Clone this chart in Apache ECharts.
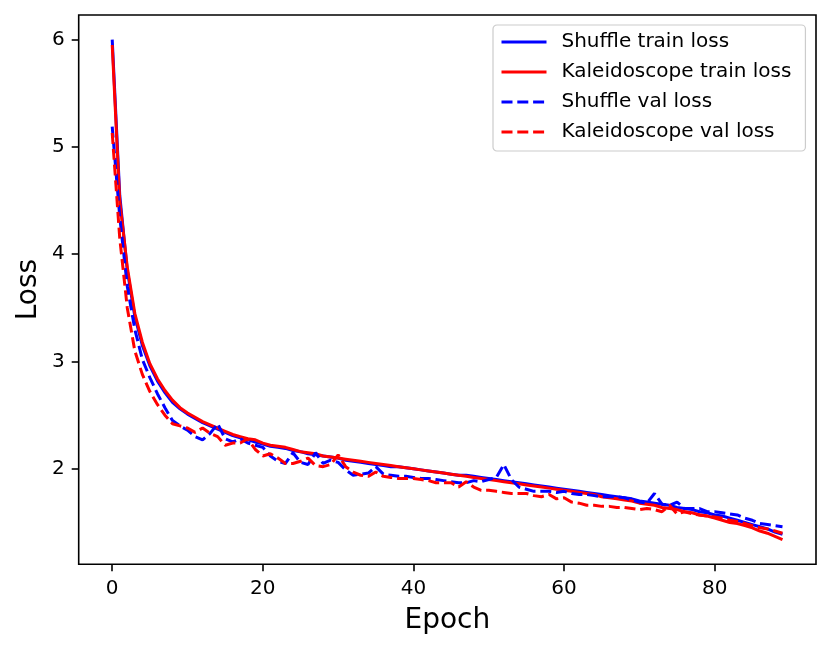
<!DOCTYPE html>
<html>
<head>
<meta charset="utf-8">
<title>Loss curves</title>
<script src="https://cdn.jsdelivr.net/npm/echarts@6/dist/echarts.min.js"></script>
<style>
  html, body { margin: 0; padding: 0; background: #ffffff; }
  #chart { width: 831px; height: 650px; }
</style>
</head>
<body>
<div id="chart"></div>
<script>
// values, one per epoch (0..89)
var shuffleTrain = [
  6.00, 4.55, 3.85, 3.42, 3.15, 2.96, 2.82, 2.71, 2.62, 2.56,
  2.51, 2.47, 2.43, 2.40, 2.37, 2.34, 2.31, 2.29, 2.27, 2.25,
  2.23, 2.21, 2.20, 2.19, 2.17, 2.16, 2.14, 2.13, 2.12, 2.11,
  2.10, 2.08, 2.07, 2.06, 2.05, 2.04, 2.03, 2.02, 2.02, 2.01,
  2.00, 1.99, 1.98, 1.97, 1.96, 1.95, 1.94, 1.94, 1.93, 1.92,
  1.91, 1.90, 1.89, 1.88, 1.87, 1.86, 1.85, 1.84, 1.83, 1.82,
  1.81, 1.80, 1.79, 1.78, 1.77, 1.76, 1.75, 1.74, 1.73, 1.72,
  1.70, 1.69, 1.68, 1.67, 1.66, 1.64, 1.63, 1.62, 1.60, 1.59,
  1.57, 1.56, 1.54, 1.52, 1.50, 1.48, 1.46, 1.44, 1.41, 1.39
];
var kaleidoTrain = [
  5.95, 4.50, 3.88, 3.45, 3.18, 2.98, 2.84, 2.73, 2.64, 2.57,
  2.52, 2.48, 2.44, 2.41, 2.38, 2.35, 2.32, 2.30, 2.28, 2.27,
  2.24, 2.22, 2.21, 2.20, 2.18, 2.16, 2.15, 2.14, 2.12, 2.11,
  2.10, 2.09, 2.08, 2.07, 2.06, 2.05, 2.04, 2.03, 2.02, 2.01,
  2.00, 1.99, 1.98, 1.97, 1.96, 1.95, 1.94, 1.93, 1.92, 1.91,
  1.90, 1.89, 1.88, 1.87, 1.86, 1.85, 1.84, 1.83, 1.82, 1.81,
  1.80, 1.79, 1.78, 1.77, 1.76, 1.74, 1.73, 1.72, 1.71, 1.70,
  1.68, 1.67, 1.66, 1.64, 1.63, 1.62, 1.60, 1.59, 1.57, 1.56,
  1.54, 1.52, 1.50, 1.49, 1.47, 1.45, 1.42, 1.40, 1.37, 1.34
];
var shuffleVal = [
  5.19, 4.35, 3.70, 3.30, 3.02, 2.85, 2.70, 2.57, 2.45, 2.40,
  2.36, 2.30, 2.27, 2.33, 2.42, 2.28, 2.25, 2.28, 2.24, 2.22,
  2.20, 2.12, 2.07, 2.05, 2.15, 2.06, 2.04, 2.15, 2.05, 2.08,
  2.06, 1.99, 1.94, 1.95, 1.96, 2.02, 1.95, 1.94, 1.93, 1.93,
  1.92, 1.91, 1.91, 1.90, 1.89, 1.88, 1.87, 1.87, 1.89, 1.88,
  1.90, 1.92, 2.04, 1.90, 1.83, 1.81, 1.79, 1.79, 1.79, 1.78,
  1.79, 1.77, 1.76, 1.76, 1.75, 1.74, 1.74, 1.74, 1.73, 1.71,
  1.69, 1.68, 1.77, 1.67, 1.66, 1.69, 1.63, 1.63, 1.63, 1.60,
  1.60, 1.59, 1.58, 1.57, 1.54, 1.52, 1.49, 1.48, 1.47, 1.46
];
var kaleidoVal = [
  5.13, 4.15, 3.50, 3.10, 2.88, 2.72, 2.60, 2.50, 2.42, 2.40,
  2.38, 2.34, 2.38, 2.33, 2.30, 2.22, 2.24, 2.24, 2.28, 2.18,
  2.12, 2.14, 2.10, 2.05, 2.05, 2.07, 2.10, 2.03, 2.02, 2.04,
  2.13, 2.02, 1.97, 1.94, 1.93, 1.97, 1.93, 1.92, 1.91, 1.91,
  1.91, 1.90, 1.89, 1.87, 1.87, 1.87, 1.83, 1.88, 1.83, 1.80,
  1.80, 1.79, 1.78, 1.77, 1.77, 1.77, 1.75, 1.74, 1.76, 1.72,
  1.73, 1.69, 1.68, 1.66, 1.66, 1.65, 1.65, 1.64, 1.64, 1.63,
  1.62, 1.63, 1.62, 1.60, 1.66, 1.58, 1.60, 1.58, 1.57, 1.56,
  1.55, 1.54, 1.52, 1.51, 1.49, 1.47, 1.45, 1.44, 1.42, 1.40
];
var xTicks = [0, 20, 40, 60, 80];
var yTicks = [2, 3, 4, 5, 6];
var seriesNames = ['Shuffle train loss', 'Kaleidoscope train loss', 'Shuffle val loss', 'Kaleidoscope val loss'];

(function() {
  var font = 'DejaVu Sans';
  var dash = [11, 4.8];
  var lw = 3;

  function pairs(values) {
    return values.map(function(v, i) { return [i, v]; });
  }

  function lineSeries(name, values, color, dashed) {
    return {
      name: name,
      type: 'line',
      data: pairs(values),
      symbol: 'none',
      showSymbol: false,
      animation: false,
      lineStyle: { color: color, width: lw, type: dashed ? dash : 'solid', cap: 'butt' },
      itemStyle: { color: color }
    };
  }

  var chart = echarts.init(document.getElementById('chart'), null, { renderer: 'canvas' });

  chart.setOption({
    backgroundColor: '#ffffff',
    animation: false,
    grid: {
      left: 78.7, right: 15, top: 15, bottom: 85.7,
      containLabel: false,
      outerBoundsMode: 'none',
      show: true,
      borderColor: '#000000',
      borderWidth: 1.6,
      backgroundColor: 'transparent'
    },
    legend: {
      data: seriesNames,
      orient: 'vertical',
      left: 493,
      top: 25,
      itemWidth: 45,
      itemHeight: 20,
      itemGap: 10,
      padding: [7, 14, 9, 7],
      backgroundColor: 'rgba(255,255,255,0.8)',
      borderColor: '#cccccc',
      borderWidth: 1.2,
      borderRadius: 4,
      itemStyle: { opacity: 0, color: 'rgba(0,0,0,0)', borderWidth: 0 },
      lineStyle: { width: lw },
      textStyle: { fontFamily: font, fontSize: 20, lineHeight: 20, color: '#000000', padding: [0, 0, 0, 10] }
    },
    xAxis: {
      type: 'value',
      min: -4.45,
      max: 93.45,
      name: 'Epoch',
      nameLocation: 'middle',
      nameGap: 42,
      nameMoveOverlap: false,
      nameTextStyle: { fontFamily: font, fontSize: 28, color: '#000000' },
      axisLine: { show: false, onZero: false },
      splitLine: { show: false },
      axisTick: { show: true, customValues: xTicks, length: 7, lineStyle: { color: '#000000', width: 1.6 } },
      axisLabel: { customValues: xTicks, margin: 14, fontFamily: font, fontSize: 20, color: '#000000' }
    },
    yAxis: {
      type: 'value',
      min: 1.11,
      max: 6.23,
      name: 'Loss',
      nameLocation: 'middle',
      nameGap: 36,
      nameMoveOverlap: false,
      nameTextStyle: { fontFamily: font, fontSize: 28, color: '#000000' },
      axisLine: { show: false, onZero: false },
      splitLine: { show: false },
      axisTick: { show: true, customValues: yTicks, length: 7, lineStyle: { color: '#000000', width: 1.6 } },
      axisLabel: { customValues: yTicks, margin: 14, fontFamily: font, fontSize: 20, color: '#000000' }
    },
    series: [
      lineSeries(seriesNames[0], shuffleTrain, '#0000ff', false),
      lineSeries(seriesNames[1], kaleidoTrain, '#ff0000', false),
      lineSeries(seriesNames[2], shuffleVal, '#0000ff', true),
      lineSeries(seriesNames[3], kaleidoVal, '#ff0000', true)
    ]
  });

  window.addEventListener('resize', function() { chart.resize(); });
})();
</script>
</body>
</html>
